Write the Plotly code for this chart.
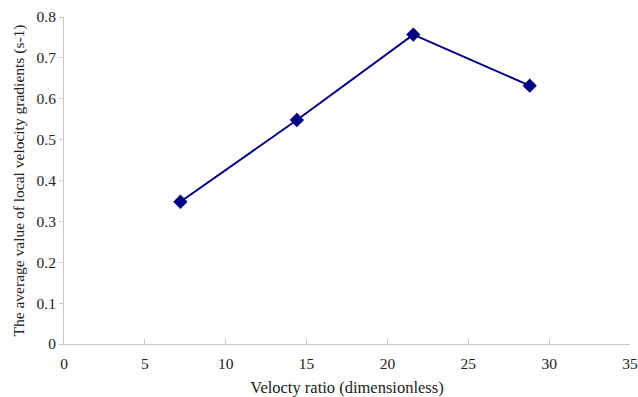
import plotly.graph_objects as go

# Velocity ratio vs. average local velocity gradient
velocity_ratio = [7.2, 14.4, 21.6, 28.8]
avg_gradient = [0.348, 0.548, 0.757, 0.632]

x_ticks = [0, 5, 10, 15, 20, 25, 30, 35]
y_ticks = [0, 0.1, 0.2, 0.3, 0.4, 0.5, 0.6, 0.7, 0.8]

navy = "#000080"
axis_grey = "#c8c8c8"
serif = "Liberation Serif, Times New Roman, serif"

fig = go.Figure(
    go.Scatter(
        x=velocity_ratio,
        y=avg_gradient,
        mode="lines+markers",
        line=dict(color=navy, width=2),
        marker=dict(symbol="diamond", size=11, color=navy),
        showlegend=False,
        cliponaxis=False,
    )
)

fig.update_layout(
    width=638,
    height=397,
    margin=dict(l=64, r=8, t=17, b=53),
    plot_bgcolor="white",
    paper_bgcolor="white",
    font=dict(family=serif, size=15, color="#222222"),
)

fig.update_xaxes(
    range=[0, 35],
    tickvals=x_ticks,
    ticktext=[str(v) for v in x_ticks],
    showgrid=False,
    zeroline=False,
    showline=True,
    linecolor=axis_grey,
    linewidth=1,
    ticks="inside",
    ticklen=5,
    tickcolor=axis_grey,
    ticklabelstandoff=5,
    automargin=False,
    tickfont=dict(family=serif, size=15.5),
    title=dict(text="Velocty ratio (dimensionless)", font=dict(family=serif, size=16.5), standoff=14),
)

fig.update_yaxes(
    range=[0, 0.8],
    tickvals=y_ticks,
    ticktext=["0", "0.1", "0.2", "0.3", "0.4", "0.5", "0.6", "0.7", "0.8"],
    showgrid=False,
    zeroline=False,
    showline=True,
    linecolor=axis_grey,
    linewidth=1,
    ticks="outside",
    ticklen=4,
    tickcolor=axis_grey,
    automargin=False,
    tickfont=dict(family=serif, size=15.5),
    title=dict(
        text="The average value of local velocity gradients (s-1)",
        font=dict(family=serif, size=15.5),
        standoff=8,
    ),
)

fig.write_html("out.html")
